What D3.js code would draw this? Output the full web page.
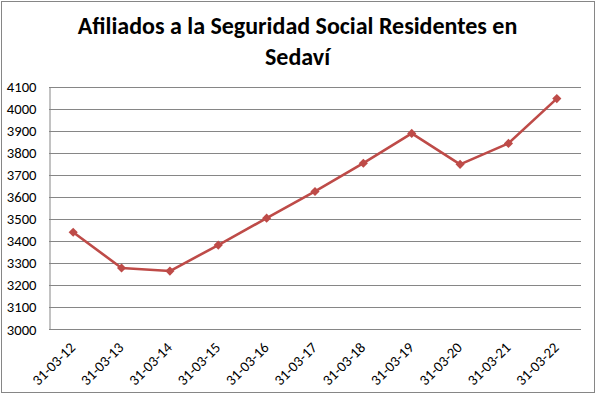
<!DOCTYPE html>
<html><head><meta charset="utf-8">
<script src="https://cdn.jsdelivr.net/npm/d3@7"></script>
<style>body{margin:0;background:#fff}svg{display:block}</style>
</head><body>
<svg id="c" width="597" height="395"></svg>
<script>
const categories = ["31-03-12","31-03-13","31-03-14","31-03-15","31-03-16","31-03-17","31-03-18","31-03-19","31-03-20","31-03-21","31-03-22"];
const values = [3440,3278,3264,3382,3504,3625,3753,3888,3748,3843,4046];
const yTicks = [3000,3100,3200,3300,3400,3500,3600,3700,3800,3900,4000,4100];
const titleLines = ["Afiliados a la Seguridad Social Residentes en","Sedaví"];

const svg = d3.select("#c");
const L = 49, R = 581, T = 86.7, B = 329.3;
const x = d3.scaleBand().domain(categories).range([L, R]);
const y = d3.scaleLinear().domain([3000, 4100]).range([B, T]);
const font = "Carlito, Calibri, Lato, 'Open Sans', sans-serif";

svg.append("rect").attr("x",1.5).attr("y",1.5).attr("width",593).attr("height",391)
  .attr("fill","#fff").attr("stroke","#868686");

svg.selectAll("text.title").data(titleLines).join("text").attr("class","title")
  .attr("x",297.5).attr("y",(d,i)=>34+i*31).attr("text-anchor","middle")
  .attr("font-family",font).attr("font-weight","bold").attr("font-size",24).attr("fill","#000")
  .text(d=>d);

// gridlines
svg.append("g").selectAll("line").data(yTicks).join("line")
  .attr("x1",L).attr("x2",R).attr("y1",d=>Math.round(y(d))+0.5).attr("y2",d=>Math.round(y(d))+0.5)
  .attr("stroke","#868686").attr("stroke-width",1);

// y axis
const ya = svg.append("g").attr("transform",`translate(${L+0.5},0)`)
  .call(d3.axisLeft(y).tickValues(yTicks).tickSize(0).tickPadding(13).tickFormat(d3.format("d")));
ya.select(".domain").attr("stroke","#868686");
ya.selectAll("text").attr("font-family",font).attr("font-size",14.67).attr("fill","#000");

// x axis
const xa = svg.append("g").attr("transform",`translate(0,${Math.round(B)+0.5})`)
  .call(d3.axisBottom(x).tickSize(0).tickPadding(0));
xa.select(".domain").remove();
xa.selectAll("text").attr("font-family",font).attr("font-size",14.67).attr("fill","#000")
  .attr("text-anchor","end").attr("dy",0)
  .attr("transform","translate(3,19) rotate(-45)");

// line
const line = d3.line().x((d,i)=>x(categories[i])+x.bandwidth()/2).y(d=>y(d));
svg.append("path").datum(values).attr("d",line).attr("fill","none")
  .attr("stroke","#BE4B48").attr("stroke-width",2.6).attr("stroke-linejoin","round");
svg.append("g").selectAll("path").data(values).join("path")
  .attr("d",d3.symbol(d3.symbolSquare, 42))
  .attr("transform",(d,i)=>`translate(${x(categories[i])+x.bandwidth()/2},${y(d)}) rotate(45)`)
  .attr("fill","#BE4B48");
</script>
</body></html>
